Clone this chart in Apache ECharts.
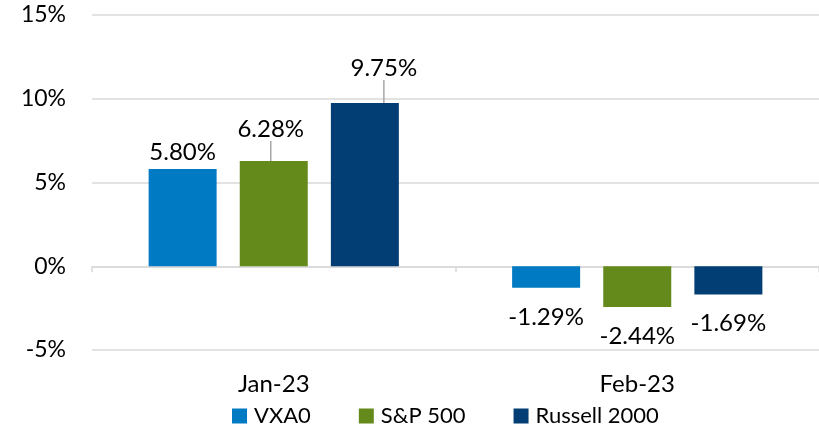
<!DOCTYPE html>
<html>
<head>
<meta charset="utf-8">
<script src="https://cdn.jsdelivr.net/npm/echarts@6/dist/echarts.min.js"></script>
<style>html,body{margin:0;padding:0;background:#fff}#c{width:819px;height:437px}</style>
</head>
<body>
<div id="c"></div>
<script>
const categories = ['Jan-23', 'Feb-23'];
const seriesNames = ['VXA0', 'S&P 500', 'Russell 2000'];
const vxa0 = [5.80, -1.29];
const sp500 = [6.28, -2.44];
const russell2000 = [9.75, -1.69];
const yTicks = [-5, 0, 5, 10, 15];

const colors = ['#007AC2', '#658A1C', '#023E73'];
const FONT = 'Lato';
// label offsets [series][dataIndex] -> [dx, dy] (leader-lined labels only)
const labelShift = [
  [[0, 0], [0, 0]],
  [[-3, -15], [0, 0]],
  [[19, -18], [0, 0]]
];
const negDistance = [17, 17, 17];

const chart = echarts.init(document.getElementById('c'));
const values = [vxa0, sp500, russell2000];
const series = values.map((vals, i) => ({
  name: seriesNames[i],
  type: 'bar',
  data: vals.map((v, j) => ({
    value: v,
    label: { position: v >= 0 ? 'top' : 'bottom', distance: v >= 0 ? 5 : negDistance[i] },
    labelLine: { show: i > 0 && v >= 0 }
  })),
  barWidth: 68,
  barGap: '34%',
  barCategoryGap: '31%',
  itemStyle: { color: colors[i] },
  label: {
    show: true,
    color: '#000',
    fontFamily: FONT,
    fontSize: 24,
    formatter: p => p.value.toFixed(2) + '%'
  },
  labelLine: { show: i > 0, lineStyle: { color: '#A6A6A6', width: 1.5 } },
  labelLayout: p => ({ dx: labelShift[i][p.dataIndex][0], dy: labelShift[i][p.dataIndex][1] })
}));

chart.setOption({
  animation: false,
  textStyle: { fontFamily: FONT },
  legend: {
    data: seriesNames,
    left: 232,
    top: 405,
    padding: 0,
    itemWidth: 15,
    itemHeight: 15,
    itemGap: 48,
    icon: 'rect',
    textStyle: { fontFamily: FONT, fontSize: 22, color: '#000', padding: [0, 0, 0, 2] }
  },
  grid: { left: 92, right: 0, top: 15, bottom: 87, containLabel: false },
  xAxis: [
    {
      type: 'category',
      data: categories,
      axisLine: { onZero: true, lineStyle: { color: '#D9D9D9', width: 1.5 } },
      axisTick: { show: true, length: 6, alignWithLabel: false, lineStyle: { color: '#D9D9D9', width: 1.5 } },
      axisLabel: { show: false }
    },
    {
      type: 'category',
      data: categories,
      position: 'bottom',
      axisLine: { show: false, onZero: false },
      axisTick: { show: false },
      axisLabel: { show: true, margin: 22, color: '#000', fontFamily: FONT, fontSize: 24 }
    }
  ],
  yAxis: {
    type: 'value',
    min: yTicks[0],
    max: yTicks[yTicks.length - 1],
    interval: 5,
    axisLine: { show: false },
    axisTick: { show: false },
    splitLine: { lineStyle: { color: '#D9D9D9', width: 1.5 } },
    axisLabel: { margin: 26, color: '#000', fontFamily: FONT, fontSize: 23, formatter: v => v + '%' }
  },
  series: series
});
</script>
</body>
</html>
